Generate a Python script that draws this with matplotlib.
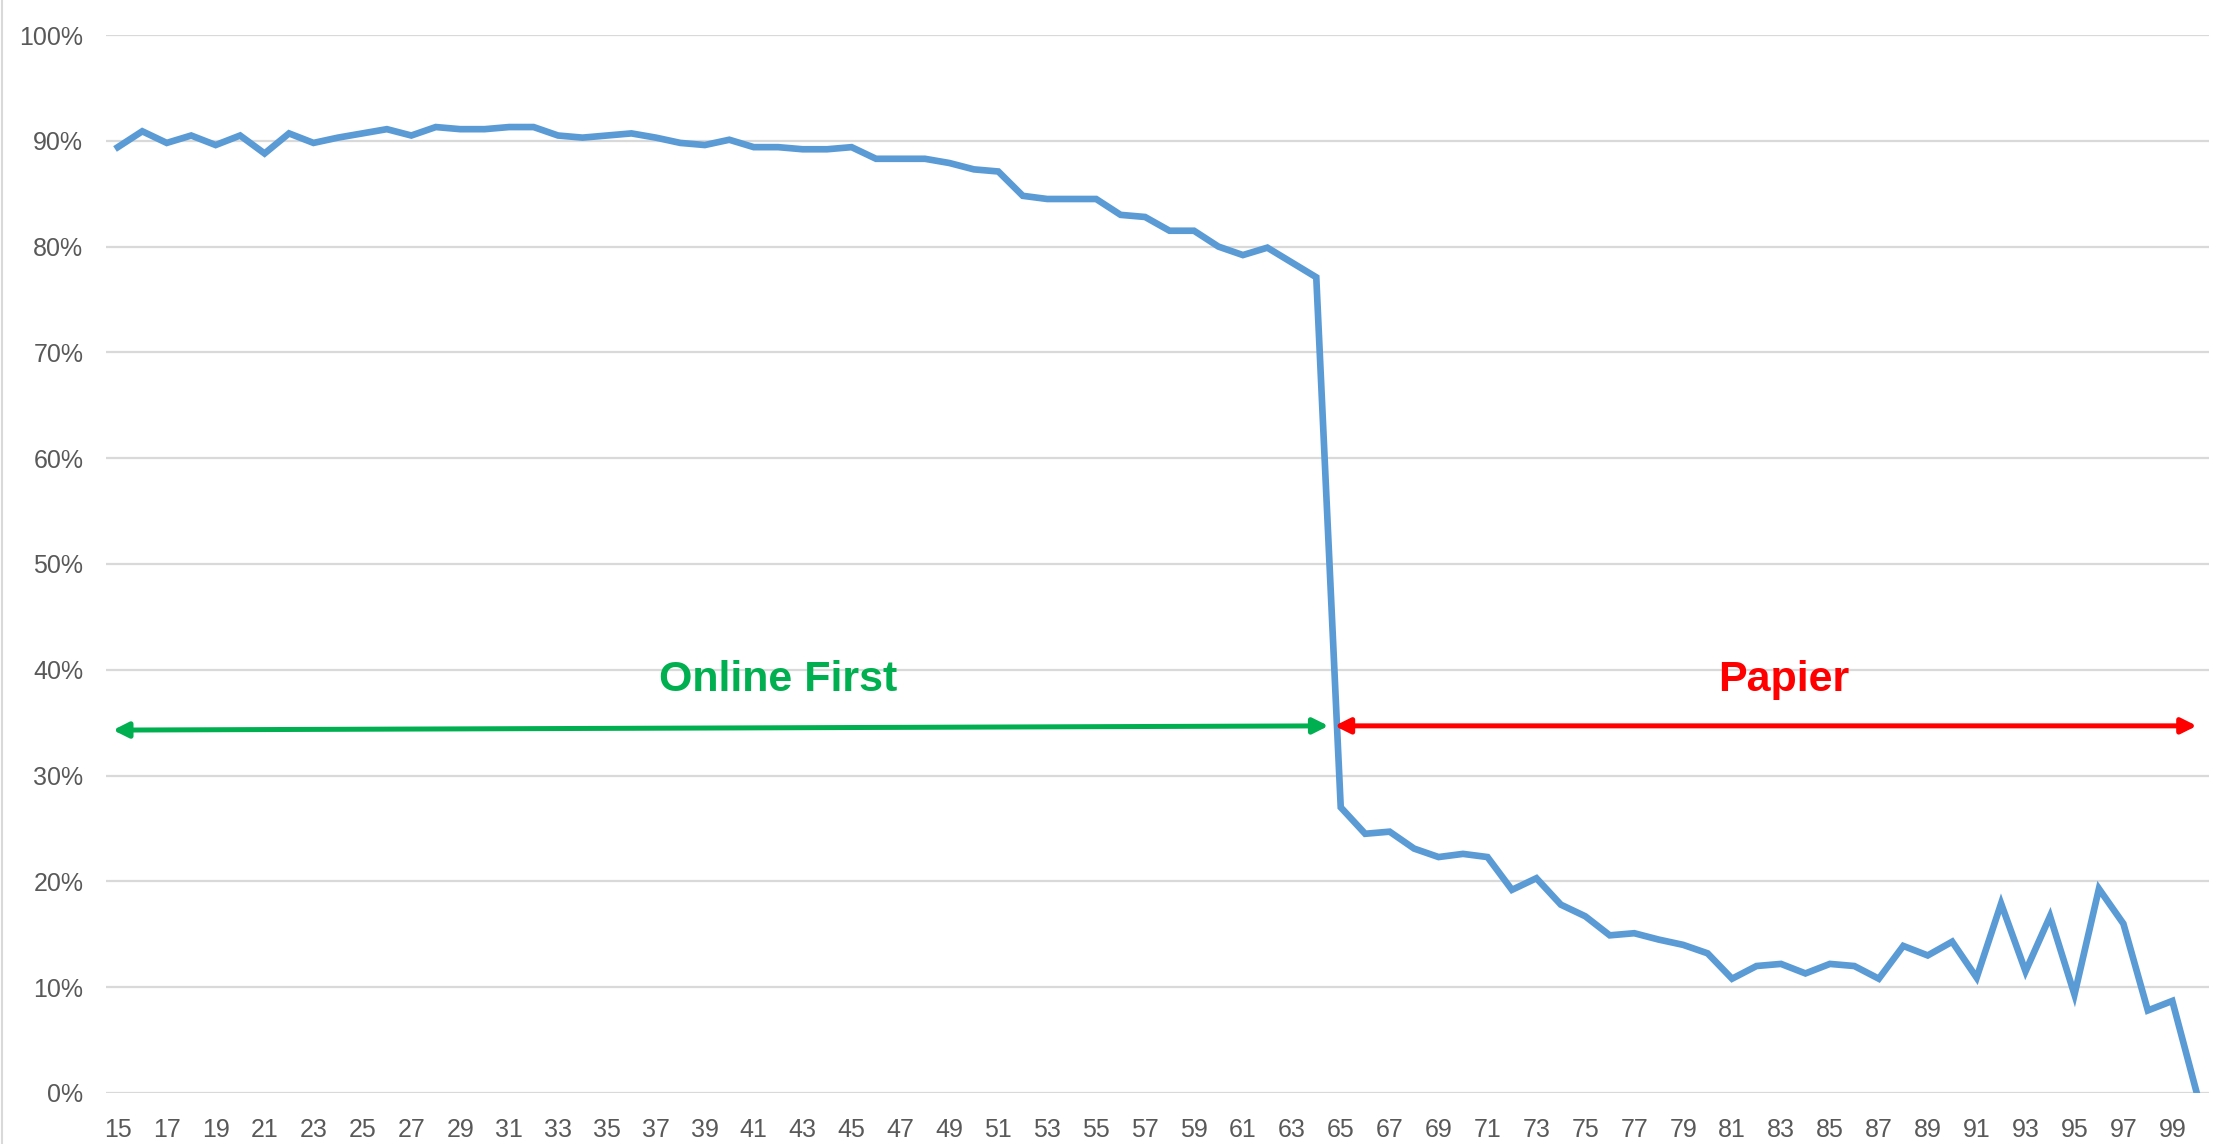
import matplotlib.pyplot as plt
from matplotlib.ticker import FuncFormatter

# Daten: Anteil je Alter
ages = list(range(15, 101))
share = [
    89.4, 90.9, 89.8, 90.5, 89.6, 90.5, 88.8, 90.7, 89.8, 90.3,  # 15-24
    90.7, 91.1, 90.5, 91.3, 91.1, 91.1, 91.3, 91.3, 90.5, 90.3,  # 25-34
    90.5, 90.7, 90.3, 89.8, 89.6, 90.1, 89.4, 89.4, 89.2, 89.2,  # 35-44
    89.4, 88.3, 88.3, 88.3, 87.9, 87.3, 87.1, 84.8, 84.5, 84.5,  # 45-54
    84.5, 83.0, 82.8, 81.5, 81.5, 80.0, 79.2, 79.9, 78.5, 77.1,  # 55-64
    27.0, 24.5, 24.7, 23.1, 22.3, 22.6, 22.3, 19.2, 20.3, 17.8,  # 65-74
    16.7, 14.9, 15.1, 14.5, 14.0, 13.2, 10.8, 12.0, 12.2, 11.3,  # 75-84
    12.2, 12.0, 10.8, 13.9, 13.0, 14.3, 10.9, 17.9, 11.5, 16.7,  # 85-94
    9.3, 19.3, 16.0, 7.8, 8.7, 0.0,                              # 95-100
]
y_ticks = [0, 10, 20, 30, 40, 50, 60, 70, 80, 90, 100]
x_tick_labels = list(range(15, 100, 2))

# Beschriftungen / Pfeile (Alter, Prozent)
online_label = ("Online First", 42.0, 39.0)
papier_label = ("Papier", 83.1, 39.0)
online_arrow = ((14.8, 34.3), (64.5, 34.7))
papier_arrow = ((64.75, 34.7), (100.0, 34.7))

plt.rcParams['font.family'] = ['Liberation Sans', 'DejaVu Sans']

fig = plt.figure(figsize=(22.23, 11.44), dpi=100, facecolor='white')
ax = fig.add_axes([0.0475, 0.0446, 0.9462, 0.9248])

ax.plot(ages, share, color='#5B9BD5', linewidth=4.8, solid_joinstyle='miter', zorder=3)

ax.set_xlim(14.5, 100.5)
ax.set_ylim(0, 100)
ax.set_yticks(y_ticks)
ax.yaxis.set_major_formatter(FuncFormatter(lambda v, p: f"{v:.0f}%"))
ax.set_xticks(x_tick_labels)
ax.grid(axis='y', color='#D9D9D9', linewidth=1.6, zorder=0)
ax.grid(axis='x', visible=False)
for s in ax.spines.values():
    s.set_visible(False)
ax.tick_params(length=0, labelsize=18, labelcolor='#595959')
ax.tick_params(axis='x', pad=18)
ax.tick_params(axis='y', pad=16)

# Pfeile
for (start, end), col in [(online_arrow, '#00B050'), (papier_arrow, '#FF0000')]:
    ax.annotate('', xy=end, xytext=start,
                arrowprops=dict(arrowstyle='<|-|>,head_length=0.9,head_width=0.45',
                                color=col, lw=3.6, shrinkA=0, shrinkB=0), zorder=4)

for (txt, x, y), col in [(online_label, '#00B050'), (papier_label, '#FF0000')]:
    ax.text(x, y, txt, color=col, fontsize=31, fontweight='bold',
            ha='center', va='center', zorder=5)

# Rahmen links
fig.add_artist(plt.Line2D([0.0008, 0.0008], [0, 1], color='#D9D9D9', linewidth=1.5))

plt.savefig('out.png', dpi=100, facecolor='white')
plt.close()
